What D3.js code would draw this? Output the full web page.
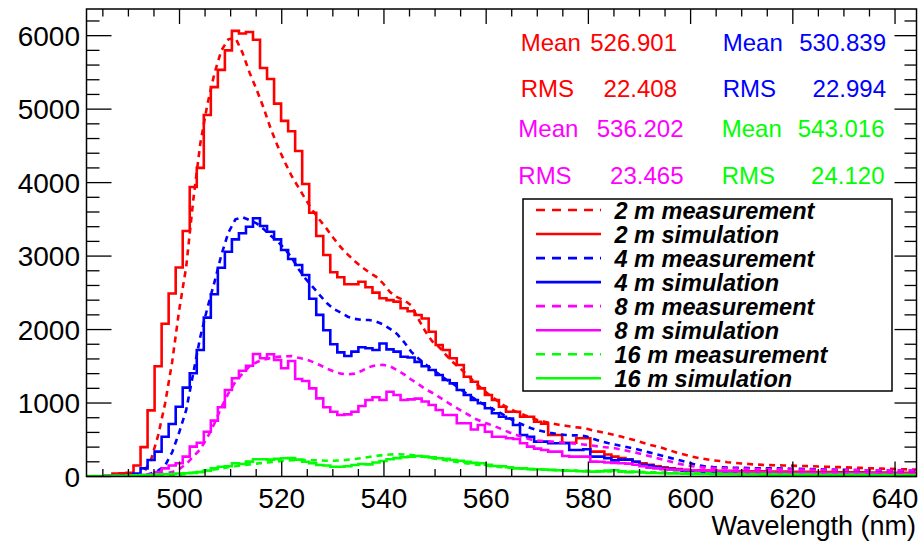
<!DOCTYPE html>
<html>
<head>
<meta charset="utf-8">
<script src="https://cdn.jsdelivr.net/npm/d3@7/dist/d3.min.js"></script>
<style>
  html, body { margin: 0; padding: 0; background: #fff; }
  svg { display: block; font-family: "Liberation Sans", Arial, Helvetica, sans-serif; }
</style>
</head>
<body>
<svg id="chart" width="922" height="541"></svg>
<script>
// ---------- DATA ----------
// Histogram binning (nm): bin k covers [binStart + k*binWidth, binStart + (k+1)*binWidth]
const binStart = 480;
const binWidth = 1.375;

const series = ["2 m measurement", "2 m simulation", "4 m measurement", "4 m simulation",
                "8 m measurement", "8 m simulation", "16 m measurement", "16 m simulation"];

const meas2m = [0,0,0,0,0,0,3,8,
  15,60,230,560,996,1560,2266,2856,3760,4530,5060,5480,5800,5950,5970,5770,5500,5270,5020,4740,
  4500,4285,4090,3930,3770,3620,3491,3370,3240,3120,3020,2930,2850,2780,2720,2630,2510,2440,
  2400,2330,2150,1980,1840,1760,1650,1550,1470,1380,1290,1200,1120,1050,980,920,880,840,800,770,
  745,725,705,690,675,665,650,625,605,585,565,540,515,490,460,430,410,380,350,320,295,270,
  250,235,220,210,195,185,178,170,163,158,155,152,150,148,145,143,140,
  137,133,130,127,124,120,117,113,110,107,104,101,98,96,94];

const sim2m = [0,0,0,0,10,40,45,50,
  150,400,900,1500,2080,2490,2845,3341,3940,4200,4920,5300,5534,5800,6065,6030,6050,5945,5560,5410,
  5075,4840,4700,4430,3981,3590,3273,3015,2779,2711,2616,2616,2651,2575,2502,2426,2400,2380,
  2290,2250,2198,2150,1971,1790,1722,1609,1517,1358,1290,1200,1109,1041,950,882,882,814,814,746,
  720,565,565,460,460,520,520,338,338,300,270,250,230,200,180,160,140,125,110,100,90,85,
  85,82,80,78,76,75,74,72,70,70,68,68,66,65,64,64,62,62,60,60,58,58,56,56,55,55,54,54,52,52,50,50];

const meas4m = [0,0,0,0,0,3,5,8,
  10,20,40,80,150,330,600,905,1405,1900,2290,2640,3015,3320,3500,3530,3490,3446,3370,3280,
  3200,3100,2980,2820,2690,2580,2470,2360,2280,2230,2175,2145,2130,2130,2110,2070,2010,1940,1830,1700,
  1610,1530,1460,1390,1320,1260,1190,1120,1060,1000,950,900,850,790,740,700,660,630,610,590,
  575,565,560,560,545,510,480,455,435,415,395,375,350,325,300,275,250,225,200,175,150,135,
  128,125,122,120,118,115,113,112,111,110,108,106,104,102,100,98,96,94,92,90,88,86,85,84,83,82,80,78,77,76];

const sim4m = [0,0,0,0,5,10,15,20,
  40,110,225,338,542,715,950,1209,1405,1722,2162,2480,2842,3060,3228,3310,3400,3514,3410,3332,
  3228,3083,2960,2879,2743,2420,2200,1990,1800,1690,1640,1700,1760,1745,1722,1810,1730,1700,1630,1620,
  1560,1500,1450,1382,1313,1268,1177,1109,1041,996,928,860,814,790,700,565,542,474,474,452,
  452,452,361,361,370,270,270,250,220,230,230,200,160,150,125,110,100,90,
  80,75,70,65,60,55,50,50,45,45,
  44,42,42,40,40,38,38,36,36,35,35,34,34,33,33,32,32,31,31,30,30,30,30,30];

const meas8m = [0,0,0,0,0,0,3,5,8,12,18,28,40,
  60,100,170,270,370,530,720,940,1132,1290,1400,1500,1555,1590,1612,1628,1636,1638,1615,1595,
  1560,1517,1470,1430,1400,1390,1400,1440,1490,1515,1520,1500,1450,1390,1320,1260,1190,1140,1080,1020,
  960,905,850,790,750,715,680,640,600,565,530,505,490,482,475,467,458,450,440,430,
  418,405,395,385,365,345,325,300,275,250,225,200,175,155,140,
  128,120,115,112,110,108,106,104,102,100,99,98,97,96,95,94,93,92,91,90,89,88,87,86,86,85,85,84,84,83,83,82];

const sim8m = [0,0,0,0,5,8,10,12,15,20,
  30,60,110,150,180,270,406,460,610,760,942,1177,1337,1440,1508,1667,1609,1663,1586,1473,1572,
  1327,1300,1200,1064,942,882,837,845,882,960,1041,1078,1041,1154,1109,1041,1050,1060,1020,973,
  905,837,837,724,724,640,700,610,542,542,520,510,452,406,380,361,338,338,280,270,270,270,
  202,200,190,185,180,175,160,140,120,110,100,
  95,90,88,85,80,78,75,72,70,68,65,62,60,58,56,55,54,52,50,50,48,48,46,46,45,45,44,44,42,42,40,40,40,38,38,38];

const meas16m = [3,3,3,3,3,5,5,5,8,10,12,15,18,
  20,25,35,50,65,80,95,110,125,140,155,165,175,185,195,205,215,222,225,225,222,218,215,215,220,
  228,238,250,265,280,292,300,303,300,292,280,265,250,235,220,205,190,178,165,155,145,135,125,118,112,
  106,100,96,92,88,85,82,80,78,76,
  74,72,70,68,66,64,62,60,58,56,54,52,50,48,46,44,42,40,39,38,37,36,35,34,33,32,31,30,30,29,
  29,28,28,27,27,26,26,25,25,25,24,24,24,23,23,23,22];

const sim16m = [5,5,5,5,8,10,10,12,
  15,20,20,25,30,35,40,
  45,50,60,80,110,133,140,180,170,202,234,234,230,240,248,250,230,200,180,157,150,133,133,140,157,
  170,165,190,210,234,250,261,270,279,270,260,248,240,225,215,200,185,180,160,143,140,125,111,111,100,
  98,95,90,85,80,79,72,68,
  66,70,80,85,70,60,65,55,50,48,45,42,40,38,36,35,34,33,32,30,30,29,28,27,26,25,25,24,24,23,
  22,22,21,21,20,20,20,19,19,18,18,18,17,17,16,16,15];

const statLabels = ["Mean", "RMS"];
const statValues = [
  ["526.901", "22.408"],   // 2 m
  ["530.839", "22.994"],   // 4 m
  ["536.202", "23.465"],   // 8 m
  ["543.016", "24.120"]    // 16 m
];

const xTickValues = [500, 520, 540, 560, 580, 600, 620, 640];
const yTickValues = [0, 1000, 2000, 3000, 4000, 5000, 6000];
const xTitle = "Wavelength (nm)";

// ---------- LAYOUT ----------
const colors = ["#ff0000", "#ff0000", "#0000ff", "#0000ff", "#ff00ff", "#ff00ff", "#00ff00", "#00ff00"];
const dashed = [true, false, true, false, true, false, true, false];
const allData = [meas2m, sim2m, meas4m, sim4m, meas8m, sim8m, meas16m, sim16m];

const frame = { left: 86.5, right: 916.5, top: 9, bottom: 476.5 };
const x = d3.scaleLinear().domain([481.8, 644.2]).range([frame.left, frame.right]);
const y = d3.scaleLinear().domain([0, 6363]).range([frame.bottom, frame.top]);

const svg = d3.select("#chart");
const FONT = "'Liberation Sans', Arial, Helvetica, sans-serif";

svg.append("defs").append("clipPath").attr("id", "frameClip")
  .append("rect")
  .attr("x", frame.left).attr("y", frame.top)
  .attr("width", frame.right - frame.left).attr("height", frame.bottom - frame.top);

// ---------- HISTOGRAMS ----------
const plot = svg.append("g").attr("clip-path", "url(#frameClip)");

const stepLine = d3.line().x(d => x(d[0])).y(d => y(d[1])).curve(d3.curveStepAfter);
const smoothLine = d3.line().x(d => x(d[0])).y(d => y(d[1]));

allData.forEach((vals, i) => {
  let pts;
  if (dashed[i]) {
    pts = vals.map((v, k) => [binStart + (k + 0.5) * binWidth, v]);
    plot.append("path")
      .attr("d", smoothLine(pts))
      .attr("fill", "none")
      .attr("stroke", colors[i])
      .attr("stroke-width", 2.6)
      .attr("stroke-dasharray", "6,5");
  } else {
    pts = vals.map((v, k) => [binStart + k * binWidth, v]);
    pts.push([binStart + vals.length * binWidth, vals[vals.length - 1]]);
    plot.append("path")
      .attr("d", stepLine(pts))
      .attr("fill", "none")
      .attr("stroke", colors[i])
      .attr("stroke-width", 2.6)
      .attr("stroke-linejoin", "miter");
  }
});

// ---------- AXES ----------
const axisG = svg.append("g").attr("stroke", "#000").attr("stroke-width", 1.3);

// x ticks (bottom and top)
const xMinor = d3.range(485, 645, 5).filter(v => v >= 481.8 && v <= 644.2);
xMinor.forEach(v => {
  const major = (v % 20 === 0);
  const len = major ? 15 : 7.5;
  axisG.append("line").attr("x1", x(v)).attr("x2", x(v))
    .attr("y1", frame.bottom).attr("y2", frame.bottom - len);
  axisG.append("line").attr("x1", x(v)).attr("x2", x(v))
    .attr("y1", frame.top).attr("y2", frame.top + len);
});

// y ticks (left and right)
const yMinor = d3.range(0, 6400, 200).filter(v => v <= 6363);
yMinor.forEach(v => {
  const major = (v % 1000 === 0);
  axisG.append("line").attr("x1", frame.left).attr("x2", frame.left + (major ? 25 : 13))
    .attr("y1", y(v)).attr("y2", y(v));
  axisG.append("line").attr("x1", frame.right).attr("x2", frame.right - (major ? 22 : 12))
    .attr("y1", y(v)).attr("y2", y(v));
});

// frame
svg.append("rect")
  .attr("x", frame.left).attr("y", frame.top)
  .attr("width", frame.right - frame.left).attr("height", frame.bottom - frame.top)
  .attr("fill", "none").attr("stroke", "#000").attr("stroke-width", 1.5);

// tick labels
svg.append("g").selectAll("text").data(xTickValues).join("text")
  .attr("x", d => x(d)).attr("y", 508)
  .attr("text-anchor", "middle")
  .attr("font-size", 28).attr("font-family", FONT).attr("fill", "#000")
  .text(d => d);

svg.append("g").selectAll("text").data(yTickValues).join("text")
  .attr("x", 80).attr("y", d => y(d) + 10)
  .attr("text-anchor", "end")
  .attr("font-size", 28).attr("font-family", FONT).attr("fill", "#000")
  .text(d => d);

svg.append("text")
  .attr("x", 916).attr("y", 535)
  .attr("text-anchor", "end")
  .attr("font-size", 27).attr("font-family", FONT).attr("fill", "#000")
  .text(xTitle);

// ---------- STATS TEXT ----------
const statPos = [
  { lx: 520.7, vx: 677, ys: [50.7, 96.5], color: colors[0] },
  { lx: 722.7, vx: 886, ys: [50.7, 96.5], color: colors[2] },
  { lx: 518.3, vx: 683.5, ys: [136.7, 184.3], color: colors[4] },
  { lx: 721.7, vx: 884.5, ys: [136.7, 184.3], color: colors[6] }
];
statValues.forEach((vals, i) => {
  const p = statPos[i];
  statLabels.forEach((lab, j) => {
    svg.append("text").attr("x", p.lx).attr("y", p.ys[j])
      .attr("font-size", 24).attr("font-family", FONT).attr("fill", p.color)
      .text(lab);
    svg.append("text").attr("x", p.vx).attr("y", p.ys[j])
      .attr("text-anchor", "end")
      .attr("font-size", 24).attr("font-family", FONT).attr("fill", p.color)
      .text(vals[j]);
  });
});

// ---------- LEGEND ----------
const legend = { x0: 523, x1: 892, y0: 199, y1: 391 };
svg.append("rect")
  .attr("x", legend.x0).attr("y", legend.y0)
  .attr("width", legend.x1 - legend.x0).attr("height", legend.y1 - legend.y0)
  .attr("fill", "#fff").attr("stroke", "#000").attr("stroke-width", 1.5);

const rowY = d3.scaleLinear().domain([0, 7]).range([210, 378.3]);
series.forEach((name, i) => {
  const yy = rowY(i);
  svg.append("line")
    .attr("x1", 536).attr("x2", 601).attr("y1", yy).attr("y2", yy)
    .attr("stroke", colors[i]).attr("stroke-width", 2.6)
    .attr("stroke-dasharray", dashed[i] ? "9,7" : null);
  svg.append("text")
    .attr("x", 614.5).attr("y", yy + 8.5)
    .attr("font-size", 23.5).attr("font-weight", "bold").attr("font-style", "italic")
    .attr("font-family", FONT).attr("fill", "#000")
    .text(name);
});
</script>
</body>
</html>
